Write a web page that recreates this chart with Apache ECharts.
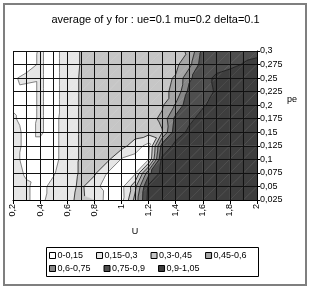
<!DOCTYPE html>
<html><head><meta charset="utf-8">
<script src="https://cdn.jsdelivr.net/npm/echarts@6/dist/echarts.min.js"></script>
<style>html,body{margin:0;padding:0;background:#fff}#c{width:311px;height:289px}</style>
</head><body><div id="c"></div><script>
// U axis nodes (columns) and pe axis nodes (rows)
const uValues = [0.2,0.3,0.4,0.5,0.6,0.7,0.8,0.9,1.0,1.1,1.2,1.3,1.4,1.5,1.6,1.7,1.8,1.9,2.0];
const peValues = [0.025,0.05,0.075,0.1,0.125,0.15,0.175,0.2,0.225,0.25,0.275,0.3];
// average of y at each node, one array per pe row (U from 0.2 to 2)
const row_pe_0025 = [0.20,0.16,0.12,0.20,0.26,0.34,0.30,0.07,0.09,0.50,0.95,0.97,0.98,0.99,0.99,0.99,0.99,0.99,0.99];
const row_pe_0050 = [0.19,0.16,0.12,0.18,0.24,0.33,0.20,0.08,0.10,0.40,0.93,0.96,0.97,0.98,0.99,0.99,0.99,0.99,0.99];
const row_pe_0075 = [0.18,0.14,0.13,0.14,0.22,0.32,0.33,0.14,0.08,0.12,0.70,0.95,0.97,0.98,0.99,0.99,0.99,0.99,0.99];
const row_pe_0100 = [0.17,0.13,0.13,0.12,0.20,0.32,0.36,0.33,0.14,0.10,0.14,0.92,0.95,0.97,0.98,0.99,0.99,0.99,0.99];
const row_pe_0125 = [0.18,0.13,0.13,0.12,0.20,0.32,0.37,0.38,0.36,0.22,0.10,0.82,0.93,0.95,0.97,0.98,0.99,0.99,0.99];
const row_pe_0150 = [0.18,0.13,0.16,0.12,0.20,0.32,0.37,0.38,0.39,0.38,0.35,0.44,0.85,0.92,0.95,0.97,0.98,0.99,0.99];
const row_pe_0175 = [0.16,0.12,0.16,0.12,0.20,0.32,0.37,0.38,0.39,0.40,0.40,0.48,0.80,0.88,0.93,0.96,0.97,0.98,0.99];
const row_pe_0200 = [0.14,0.12,0.16,0.12,0.19,0.32,0.36,0.38,0.39,0.40,0.41,0.43,0.62,0.86,0.89,0.93,0.96,0.97,0.98];
const row_pe_0225 = [0.13,0.12,0.16,0.12,0.19,0.32,0.36,0.38,0.39,0.40,0.41,0.43,0.47,0.80,0.86,0.91,0.95,0.96,0.97];
const row_pe_0250 = [0.14,0.17,0.16,0.12,0.19,0.32,0.36,0.38,0.39,0.40,0.41,0.42,0.46,0.72,0.86,0.92,0.94,0.95,0.96];
const row_pe_0275 = [0.13,0.12,0.16,0.12,0.19,0.31,0.36,0.38,0.39,0.40,0.41,0.42,0.42,0.55,0.84,0.86,0.88,0.905,0.91];
const row_pe_0300 = [0.12,0.11,0.16,0.12,0.19,0.31,0.36,0.38,0.39,0.40,0.41,0.42,0.43,0.46,0.80,0.83,0.85,0.87,0.89];
const zRows = [row_pe_0025,row_pe_0050,row_pe_0075,row_pe_0100,row_pe_0125,row_pe_0150,
               row_pe_0175,row_pe_0200,row_pe_0225,row_pe_0250,row_pe_0275,row_pe_0300];

const bandLabels = ['0-0,15','0,15-0,3','0,3-0,45','0,45-0,6','0,6-0,75','0,75-0,9','0,9-1,05'];
const bandLimits = [0,0.15,0.3,0.45,0.6,0.75,0.9,1.05];
const bandColors = ['#ffffff','#e6e6e6','#c6c6c6','#a6a6a6','#878787','#4e4e4e','#3e3e3e'];
const lineLevels = [0.15,0.3,0.45,0.6,0.75,0.9];

const xTickValues = [0.2,0.4,0.6,0.8,1,1.2,1.4,1.6,1.8,2];
const xTickLabels = ['0,2','0,4','0,6','0,8','1','1,2','1,4','1,6','1,8','2'];
const yTickLabels = ['0,025','0,05','0,075','0,1','0,125','0,15','0,175','0,2','0,225','0,25','0,275','0,3'];

const titleText = 'average of y for : ue=0.1 mu=0.2 delta=0.1';

// cells
const cellData = [];
for (let j = 0; j < peValues.length - 1; j++)
  for (let i = 0; i < uValues.length - 1; i++)
    cellData.push([uValues[i], peValues[j], i, j]);

function node(i, j) { return {x: uValues[i], y: peValues[j], v: zRows[j][i]}; }
function triangles(i, j) {
  const a = node(i, j), b = node(i + 1, j), c = node(i + 1, j + 1), d = node(i, j + 1);
  return [[a, b, c], [a, c, d]];
}
function clipPoly(pts, L, above) {
  const out = [];
  for (let k = 0; k < pts.length; k++) {
    const a = pts[k], b = pts[(k + 1) % pts.length];
    const ain = above ? a.v >= L : a.v <= L;
    const bin = above ? b.v >= L : b.v <= L;
    if (ain) out.push(a);
    if (ain !== bin) {
      const t = (L - a.v) / (b.v - a.v);
      out.push({x: a.x + t * (b.x - a.x), y: a.y + t * (b.y - a.y), v: L});
    }
  }
  return out;
}
function bandRenderer(k) {
  return function (params, api) {
    const i = api.value(2), j = api.value(3);
    const children = [];
    triangles(i, j).forEach(tri => {
      let p = clipPoly(tri, bandLimits[k], true);
      if (p.length >= 3) p = clipPoly(p, bandLimits[k + 1], false);
      if (p.length >= 3) {
        children.push({type: 'polygon', shape: {points: p.map(q => api.coord([q.x, q.y]))},
          style: {fill: bandColors[k], stroke: bandColors[k], lineWidth: 0.5}});
      }
    });
    return {type: 'group', children};
  };
}
function lineRenderer(params, api) {
  const i = api.value(2), j = api.value(3);
  const children = [];
  triangles(i, j).forEach(tri => {
    lineLevels.forEach(L => {
      const pts = [];
      for (let k = 0; k < 3; k++) {
        const a = tri[k], b = tri[(k + 1) % 3];
        if ((a.v - L) * (b.v - L) < 0) {
          const t = (L - a.v) / (b.v - a.v);
          pts.push(api.coord([a.x + t * (b.x - a.x), a.y + t * (b.y - a.y)]));
        }
      }
      if (pts.length === 2) {
        children.push({type: 'line', shape: {x1: pts[0][0], y1: pts[0][1], x2: pts[1][0], y2: pts[1][1]},
          style: {stroke: L === 0.15 ? '#6a6a6a' : '#1a1a1a', lineWidth: 0.8}});
      }
    });
  });
  return {type: 'group', children};
}

const FONT = 'Liberation Sans, Arial, sans-serif';
const series = bandLabels.map((name, k) => ({
  type: 'custom', name, coordinateSystem: 'cartesian2d', data: cellData,
  encode: {x: 0, y: 1}, itemStyle: {color: bandColors[k]}, renderItem: bandRenderer(k),
  clip: true, silent: true, animation: false, z: 2
}));
series.push({type: 'custom', name: 'lines', coordinateSystem: 'cartesian2d', data: cellData,
  encode: {x: 0, y: 1}, renderItem: lineRenderer, clip: true, silent: true, animation: false, z: 3});

const legendCommon = {
  orient: 'horizontal', padding: 0, itemGap: 13, itemWidth: 6, itemHeight: 6, icon: 'rect',
  itemStyle: {borderColor: '#000', borderWidth: 1},
  textStyle: {fontSize: 9, color: '#000', fontFamily: FONT, padding: [0, 0, 0, -3]},
  selectedMode: false
};

const chart = echarts.init(document.getElementById('c'), null, {renderer: 'canvas'});
chart.setOption({
  animation: false,
  backgroundColor: '#fff',
  textStyle: {fontFamily: FONT},
  title: {text: titleText, left: 'center', top: 9,
    textStyle: {fontSize: 11, fontWeight: 'normal', color: '#000', fontFamily: FONT}},
  grid: {left: 13, right: 54, top: 51, bottom: 89, containLabel: false},
  xAxis: {
    type: 'value', min: 0.2, max: 2, interval: 0.2, position: 'bottom', z: 5,
    axisLine: {show: true, onZero: false, lineStyle: {color: '#000', width: 1}},
    axisTick: {show: true, length: 4, lineStyle: {color: '#000'}},
    minorTick: {show: false, splitNumber: 2},
    splitLine: {show: true, lineStyle: {color: '#111', width: 1}},
    minorSplitLine: {show: true, lineStyle: {color: '#111', width: 1}},
    axisLabel: {rotate: 90, fontSize: 9, color: '#000', margin: 4, fontFamily: FONT,
      formatter: v => { const k = xTickValues.findIndex(t => Math.abs(t - v) < 1e-6); return k >= 0 ? xTickLabels[k] : ''; }},
    name: 'U', nameLocation: 'middle', nameGap: 27,
    nameTextStyle: {fontSize: 9, color: '#000', fontFamily: FONT}
  },
  yAxis: {
    type: 'value', min: 0.025, max: 0.3, interval: 0.025, position: 'right', z: 5,
    axisLine: {show: true, onZero: false, lineStyle: {color: '#000', width: 1}},
    axisTick: {show: true, length: 3, lineStyle: {color: '#000'}},
    splitLine: {show: true, lineStyle: {color: '#111', width: 1}},
    axisLabel: {fontSize: 9, color: '#000', margin: 3, fontFamily: FONT,
      formatter: v => { const k = peValues.findIndex(t => Math.abs(t - v) < 1e-6); return k >= 0 ? yTickLabels[k] : ''; }}
  },
  legend: [
    Object.assign({data: bandLabels.slice(0, 4), left: 49, top: 251}, legendCommon),
    Object.assign({data: bandLabels.slice(4), left: 49, top: 264}, legendCommon)
  ],
  graphic: [
    {type: 'rect', shape: {x: 4, y: 4, width: 302, height: 281}, style: {fill: null, stroke: '#7f7f7f', lineWidth: 2}, silent: true, z: 100},
    {type: 'rect', shape: {x: 46.5, y: 247.5, width: 212, height: 29}, style: {fill: null, stroke: '#000', lineWidth: 1}, silent: true, z: 100},
    {type: 'text', left: 287, top: 95, style: {text: 'pe', font: '9px ' + FONT, fill: '#000'}, silent: true}
  ],
  series
});
</script></body></html>
